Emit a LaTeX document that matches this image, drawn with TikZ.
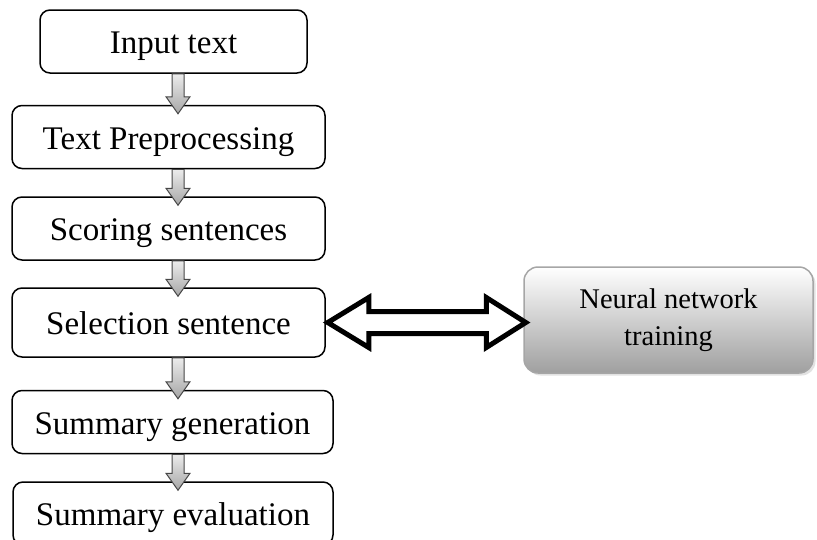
\documentclass[tikz,border=0pt]{standalone}
\usepackage{fontspec}
\setmainfont{Liberation Serif}
\usetikzlibrary{calc,shadows}

\begin{document}
\begin{tikzpicture}[x=1pt,y=-1pt,
  stage/.style={draw, rounded corners=10pt, line width=1.5pt, minimum height=63pt, inner sep=0pt,
    text height=24pt, text depth=0pt, font=\fontsize{33}{38}\selectfont},
  nnet/.style={draw=gray!70, rounded corners=14pt, line width=1.5pt, top color=white, bottom color=gray!75,
    drop shadow={shadow xshift=2.5pt, shadow yshift=-2.5pt, fill=gray!45},
    minimum width=289pt, minimum height=106pt, align=center, font=\fontsize{28.5}{37}\selectfont},
  down/.style={draw=gray!55!black, line width=1pt, top color=gray!15, bottom color=gray!70},
  both/.style={draw=black, line width=5pt, fill=white, line join=miter}
]
\useasboundingbox (0,0) rectangle (817,539);

\node[stage, minimum width=267pt] (input) at (173.5,41.5) {Input text};
\node[stage, minimum width=313pt] (prep) at (168.5,137) {Text Preprocessing};
\node[stage, minimum width=313pt] (score) at (168.5,228.5) {Scoring sentences};
\node[stage, minimum width=313pt, minimum height=69pt] (select) at (168.5,322.5) {Selection sentence};
\node[stage, minimum width=321pt] (gen) at (172.5,422) {Summary generation};
\node[stage, minimum width=320pt] (eval) at (173,513.5) {Summary evaluation};
\node[nnet] (nn) at (668.5,320) {Neural network\\training};

\coordinate (spine) at (178,0);

% grey block arrows down the left column
\foreach \a/\b in {input/prep, prep/score, score/select, select/gen, gen/eval}
  \path[down] let \p1=(\a.south -| spine), \p2=(\b.north -| spine) in
    (\x1-6pt,\y1) -- (\x1-6pt,\y2+8pt) -- (\x1-12pt,\y2+8pt) -- (\x1,\y2-9pt)
    -- (\x1+12pt,\y2+8pt) -- (\x1+6pt,\y2+8pt) -- (\x1+6pt,\y1) -- cycle;

% two-way arrow to the network box
\path[both] let \p1=(select.east), \p2=(nn.west) in
  (\x1+2pt,\y1) -- (\x1+43pt,\y1+25pt) -- (\x1+43pt,\y1+11pt) -- (\x2-37pt,\y1+11pt)
  -- (\x2-37pt,\y1+25pt) -- (\x2+2.5pt,\y1) -- (\x2-37pt,\y1-25pt) -- (\x2-37pt,\y1-11pt)
  -- (\x1+43pt,\y1-11pt) -- (\x1+43pt,\y1-25pt) -- cycle;

\end{tikzpicture}
\end{document}
